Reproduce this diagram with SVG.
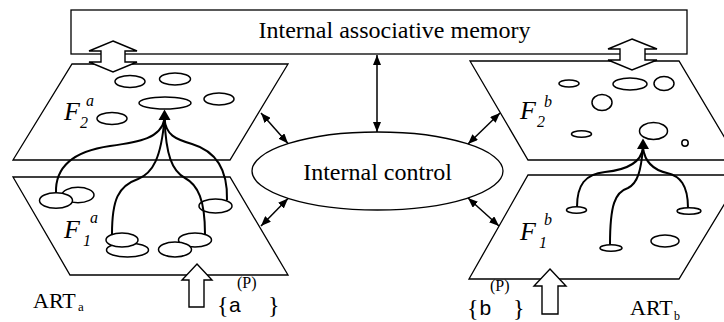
<svg xmlns="http://www.w3.org/2000/svg" width="724" height="322" viewBox="0 0 724 322">
  <defs>
    <marker id="ah" viewBox="0 0 10 8" refX="10" refY="4" markerWidth="10" markerHeight="8" markerUnits="userSpaceOnUse" orient="auto-start-reverse">
      <path d="M0,0 L10,4 L0,8 z" fill="#000"/>
    </marker>
  </defs>
  <style>
    .plane { fill: #fff; stroke: #000; stroke-width: 1.3; }
    .box { fill: #fff; stroke: #000; stroke-width: 1.3; }
    .cell { fill: #fff; stroke: #000; stroke-width: 1.5; }
    .wire { fill: none; stroke: #000; stroke-width: 2; }
    .hollow { fill: #fff; stroke: #000; stroke-width: 1.4; stroke-linejoin: miter; }
    .link { fill: none; stroke: #000; stroke-width: 1.5; marker-start: url(#ah); marker-end: url(#ah); }
    .lbl { font-family: "Liberation Serif", "Times New Roman", serif; fill: #000; }
    .it { font-style: italic; }
    .big { font-size: 26px; }
    .idx { font-size: 16px; }
    .sans { font-family: "Liberation Sans", Arial, sans-serif; fill: #000; }
  </style>
  <rect width="724" height="322" fill="#fff"/>

  <!-- shared memory bar -->
  <g id="memory">
    <rect class="box" x="71" y="10" width="616" height="44"/>
    <text class="lbl" x="394.5" y="38" font-size="24" text-anchor="middle">Internal associative memory</text>
  </g>

  <!-- central controller -->
  <g id="control">
    <ellipse class="box" cx="377.5" cy="171" rx="125.5" ry="39"/>
    <text class="lbl" x="377.5" y="180" font-size="24" text-anchor="middle">Internal control</text>
  </g>

  <!-- ART a : F2 layer -->
  <g id="art-a-f2">
    <polygon class="plane" points="72,64 288,64 230,160 13,160"/>
    <ellipse class="cell" cx="130" cy="81.5" rx="15" ry="6"/>
    <ellipse class="cell" cx="175" cy="79" rx="15.5" ry="6"/>
    <ellipse class="cell" cx="165" cy="103" rx="26" ry="6"/>
    <ellipse class="cell" cx="219" cy="99" rx="15" ry="6"/>
    <ellipse class="cell" cx="112" cy="118.5" rx="15" ry="6"/>
    <text class="lbl it big" x="64" y="120">F</text>
    <text class="lbl it idx" x="80" y="128">2</text>
    <text class="lbl it idx" x="86" y="106">a</text>
  </g>

  <!-- ART a : F1 layer -->
  <g id="art-a-f1">
    <polygon class="plane" points="13,177 230,177 288,275 70,275"/>
    <ellipse class="cell" cx="78" cy="195" rx="16" ry="7.7"/>
    <ellipse class="cell" cx="56" cy="200.5" rx="16.5" ry="7.8"/>
    <ellipse class="cell" cx="127.5" cy="250" rx="21" ry="7"/>
    <ellipse class="cell" cx="122" cy="240" rx="16" ry="7"/>
    <ellipse class="cell" cx="195" cy="240" rx="16.5" ry="7"/>
    <ellipse class="cell" cx="175" cy="249.5" rx="16.5" ry="7.5"/>
    <ellipse class="cell" cx="215.5" cy="206" rx="16.5" ry="7"/>
    <text class="lbl it big" x="64" y="238">F</text>
    <text class="lbl it idx" x="83" y="246">1</text>
    <text class="lbl it idx" x="90" y="223">a</text>
  </g>

  <!-- ART b : F2 layer -->
  <g id="art-b-f2">
    <polygon class="plane" points="470,61 679,61 738,160 528,160"/>
    <ellipse class="cell" cx="569" cy="83.5" rx="10" ry="3.5"/>
    <ellipse class="cell" cx="630" cy="84" rx="17" ry="6"/>
    <ellipse class="cell" cx="664" cy="83.5" rx="10" ry="7"/>
    <ellipse class="cell" cx="602" cy="102.5" rx="10" ry="8"/>
    <ellipse class="cell" cx="581.5" cy="134" rx="10" ry="3.3"/>
    <ellipse class="cell" cx="653.5" cy="131" rx="14" ry="8.5"/>
    <circle class="cell" cx="685" cy="143" r="3.2" stroke-width="1.2"/>
    <text class="lbl it big" x="520" y="119">F</text>
    <text class="lbl it idx" x="537" y="127">2</text>
    <text class="lbl it idx" x="544" y="107">b</text>
  </g>

  <!-- ART b : F1 layer -->
  <g id="art-b-f1">
    <polygon class="plane" points="528,175 742,175 679,279 469,279"/>
    <ellipse class="cell" cx="576.5" cy="210" rx="10" ry="3.3"/>
    <ellipse class="cell" cx="689" cy="211" rx="12" ry="3.3"/>
    <ellipse class="cell" cx="611" cy="248" rx="11" ry="3.3"/>
    <ellipse class="cell" cx="665" cy="241" rx="14" ry="6"/>
    <text class="lbl it big" x="520" y="240">F</text>
    <text class="lbl it idx" x="539" y="248">1</text>
    <text class="lbl it idx" x="544" y="225">b</text>
  </g>

  <!-- labels under the modules -->
  <g id="labels">
    <text class="lbl" x="33" y="308" font-size="22">ART</text>
    <text class="lbl" x="78" y="311" font-size="13">a</text>
    <text class="lbl" x="217" y="313" font-size="24">{</text>
    <text class="sans" x="229" y="312" font-size="21">a</text>
    <text class="lbl" x="237" y="288" font-size="16">(P)</text>
    <text class="lbl" x="268" y="313" font-size="24">}</text>
    <text class="lbl" x="467" y="316" font-size="24">{</text>
    <text class="sans" x="479.5" y="315" font-size="21">b</text>
    <text class="lbl" x="490" y="291" font-size="16">(P)</text>
    <text class="lbl" x="513" y="316" font-size="24">}</text>
    <text class="lbl" x="630" y="315" font-size="22">ART</text>
    <text class="lbl" x="674" y="320" font-size="12">b</text>
  </g>

  <g id="connectors">
    <!-- wide hollow arrows between memory and layers / inputs -->
    <polygon class="hollow" points="113,41 137,51 125,51 125,62 137,62 113,72 89,62 101,62 101,51 89,51"/>
    <polygon class="hollow" points="632,39 657,49 645,49 645,60 657,60 632,70 608,60 620,60 620,49 608,49"/>
    <polygon class="hollow" points="197,264 212,280 204,280 204,307 189,307 189,280 182,280"/>
    <polygon class="hollow" points="550,269 566,286 558,286 558,314 542,314 542,286 534,286"/>

    <!-- control links -->
    <line class="link" x1="377" y1="55" x2="377" y2="132"/>
    <line class="link" x1="261" y1="113" x2="288" y2="143.5"/>
    <line class="link" x1="500" y1="113" x2="468" y2="144"/>
    <line class="link" x1="288" y1="198.5" x2="261" y2="226"/>
    <line class="link" x1="468" y1="198" x2="499" y2="226"/>

    <!-- bottom-up pathways, ART a -->
    <path class="wire" d="M56,193 C55,165 75,151 110,146 C140,142 161,138 164.5,119"/>
    <path class="wire" d="M112,234 C112,200 118,186 138,179 C153,173 161,158 164.5,119"/>
    <path class="wire" d="M205,234 C205,200 198,185 185,178 C172,171 166,155 164.5,119"/>
    <path class="wire" d="M227,200 C228,165 212,150 192,144 C175,139 166,135 164.5,119"/>
    <polygon points="164.5,109.5 170.5,120 158.5,120" fill="#000"/>

    <!-- bottom-up pathways, ART b -->
    <path class="wire" d="M577,207 C577,185 585,174 605,172 C625,170 641,163 643,148"/>
    <path class="wire" d="M610,244.5 C610,205 615,192 628,188 C638,183 641,170 643,148"/>
    <path class="wire" d="M688,208 C688,185 680,176 667,173 C654,170 645,163 643,148"/>
    <polygon points="643,138.5 649,149 637,149" fill="#000"/>
  </g>
</svg>
